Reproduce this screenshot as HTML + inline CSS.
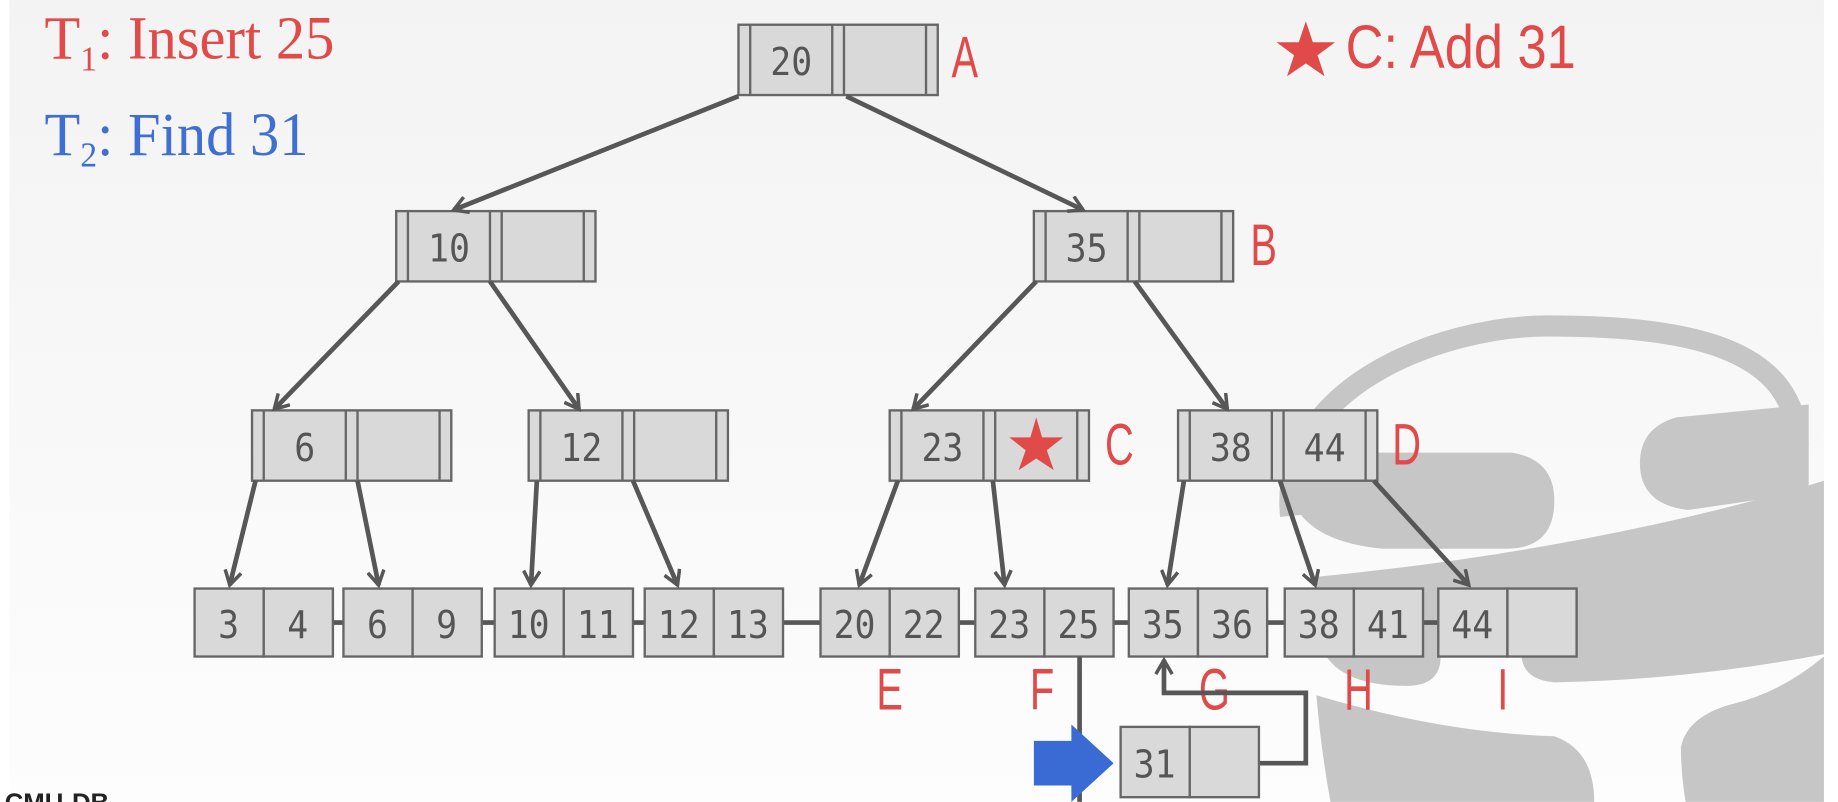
<!DOCTYPE html>
<html><head><meta charset="utf-8"><style>
html,body{margin:0;padding:0;background:#fff}
svg{display:block}
.c{fill:#d9d9d9;stroke:#666;stroke-width:2}
.k{font-family:"DejaVu Sans Mono","Liberation Mono",monospace;font-size:33px;fill:#555;text-anchor:middle;transform-box:fill-box;transform-origin:center;transform:scaleX(0.9)}
.e{stroke:#575757;stroke-width:4;fill:none}
.l{font-family:"Liberation Sans",sans-serif;font-size:50px;fill:#e04a48;text-anchor:middle;transform-box:fill-box;transform-origin:center;transform:scaleX(0.68)}
.t{font-family:"Liberation Serif",serif;font-size:52px;transform-box:fill-box;transform-origin:left center;transform:scaleX(0.96)}
</style></head><body>
<svg width="1838" height="802" viewBox="0 0 1568 684" xmlns="http://www.w3.org/2000/svg">
<defs>
<linearGradient id="bg" x1="0" y1="0" x2="0" y2="1"><stop offset="0" stop-color="#f3f3f3"/><stop offset="1" stop-color="#fdfdfd"/></linearGradient>
<marker id="ah" markerWidth="16" markerHeight="16" refX="13" refY="8" orient="auto" markerUnits="userSpaceOnUse" viewBox="0 0 16 16"><path d="M1,1 L13,8 L1,15" fill="none" stroke="#575757" stroke-width="3"/></marker>
</defs>
<rect x="0" y="0" width="1568" height="684" fill="#fff"/>
<rect x="8" y="0" width="1548" height="684" fill="url(#bg)"/>
<!-- database icon -->
<g fill="#c6c6c6">
<path d="M1101,440 C1090,330 1230,278 1320,278 C1450,278 1532,300 1534,380" fill="none" stroke="#c6c6c6" stroke-width="18"/>
<path d="M1094,386 L1290,386 Q1326,392 1326,427 Q1326,468 1285,468 L1180,468 Q1112,462 1100,420 Z"/>
<path d="M1543,345 L1543,420 L1440,435 Q1399,430 1399,395 Q1399,365 1430,356 Z"/>
<path d="M1123,492 Q1350,470 1543,414 L1556,410 L1556,558 Q1440,580 1326,582 Q1300,580 1298,560 L1229,560 Q1229,585 1200,585 Q1135,585 1125,545 Z"/>
<path d="M1123,593 Q1230,625 1326,628 Q1360,640 1360,684 L1135,684 Q1127,640 1123,593 Z"/>
<path d="M1434,637 Q1440,610 1480,600 Q1520,590 1556,560 L1556,684 L1438,684 Q1434,660 1434,637 Z"/>
</g>
<!-- titles -->
<text class="t" x="38" y="50" fill="#e04a48">T<tspan font-size="30" dy="10">1</tspan><tspan dy="-10">: Insert 25</tspan></text>
<text class="t" x="38" y="132" fill="#3f6fd0">T<tspan font-size="30" dy="10">2</tspan><tspan dy="-10">: Find 31</tspan></text>
<polygon points="1114,18 1120,36 1139,36 1124,47 1130,65 1114,54 1098,65 1104,47 1089,36 1108,36" fill="#e04a48"/>
<text x="1148" y="58" font-family="Liberation Sans,sans-serif" font-size="52" fill="#e04a48" style="transform-box:fill-box;transform-origin:left center;transform:scaleX(0.86)">C: Add 31</text>
<!-- A -->
<rect class="c" x="630" y="21" width="170" height="60"/><line class="c" x1="640" y1="21" x2="640" y2="81"/><line class="c" x1="710" y1="21" x2="710" y2="81"/><line class="c" x1="720" y1="21" x2="720" y2="81"/><line class="c" x1="790" y1="21" x2="790" y2="81"/><text class="k" x="675" y="64">20</text>
<!-- 10 -->
<rect class="c" x="338" y="180" width="170" height="60"/><line class="c" x1="348" y1="180" x2="348" y2="240"/><line class="c" x1="418" y1="180" x2="418" y2="240"/><line class="c" x1="428" y1="180" x2="428" y2="240"/><line class="c" x1="498" y1="180" x2="498" y2="240"/><text class="k" x="383" y="223">10</text>
<!-- B -->
<rect class="c" x="882" y="180" width="170" height="60"/><line class="c" x1="892" y1="180" x2="892" y2="240"/><line class="c" x1="962" y1="180" x2="962" y2="240"/><line class="c" x1="972" y1="180" x2="972" y2="240"/><line class="c" x1="1042" y1="180" x2="1042" y2="240"/><text class="k" x="927" y="223">35</text>
<!-- 6 -->
<rect class="c" x="215" y="350" width="170" height="60"/><line class="c" x1="225" y1="350" x2="225" y2="410"/><line class="c" x1="295" y1="350" x2="295" y2="410"/><line class="c" x1="305" y1="350" x2="305" y2="410"/><line class="c" x1="375" y1="350" x2="375" y2="410"/><text class="k" x="260" y="393">6</text>
<!-- 12 -->
<rect class="c" x="451" y="350" width="170" height="60"/><line class="c" x1="461" y1="350" x2="461" y2="410"/><line class="c" x1="531" y1="350" x2="531" y2="410"/><line class="c" x1="541" y1="350" x2="541" y2="410"/><line class="c" x1="611" y1="350" x2="611" y2="410"/><text class="k" x="496" y="393">12</text>
<!-- C -->
<rect class="c" x="759" y="350" width="170" height="60"/><line class="c" x1="769" y1="350" x2="769" y2="410"/><line class="c" x1="839" y1="350" x2="839" y2="410"/><line class="c" x1="849" y1="350" x2="849" y2="410"/><line class="c" x1="919" y1="350" x2="919" y2="410"/><text class="k" x="804" y="393">23</text>
<polygon points="884,356 889,373 907,373 893,384 899,401 884,391 869,401 875,384 861,373 879,373" fill="#e04a48"/>
<!-- D -->
<rect class="c" x="1005" y="350" width="170" height="60"/><line class="c" x1="1015" y1="350" x2="1015" y2="410"/><line class="c" x1="1085" y1="350" x2="1085" y2="410"/><line class="c" x1="1095" y1="350" x2="1095" y2="410"/><line class="c" x1="1165" y1="350" x2="1165" y2="410"/><text class="k" x="1050" y="393">38</text><text class="k" x="1130" y="393">44</text>
<!-- leaf links -->
<g stroke="#575757" stroke-width="4">
<line x1="284" y1="531" x2="293" y2="531"/><line x1="411" y1="531" x2="422" y2="531"/><line x1="540" y1="531" x2="550" y2="531"/><line x1="668" y1="531" x2="700" y2="531"/><line x1="818" y1="531" x2="832" y2="531"/><line x1="950" y1="531" x2="963" y2="531"/><line x1="1081" y1="531" x2="1096" y2="531"/><line x1="1214" y1="531" x2="1227" y2="531"/>
</g>
<!-- leaves -->
<g>
<rect class="c" x="166" y="502" width="59" height="58"/><rect class="c" x="225" y="502" width="59" height="58"/><text class="k" x="195" y="544">3</text><text class="k" x="254" y="544">4</text>
<rect class="c" x="293" y="502" width="59" height="58"/><rect class="c" x="352" y="502" width="59" height="58"/><text class="k" x="322" y="544">6</text><text class="k" x="381" y="544">9</text>
<rect class="c" x="422" y="502" width="59" height="58"/><rect class="c" x="481" y="502" width="59" height="58"/><text class="k" x="451" y="544">10</text><text class="k" x="510" y="544">11</text>
<rect class="c" x="550" y="502" width="59" height="58"/><rect class="c" x="609" y="502" width="59" height="58"/><text class="k" x="579" y="544">12</text><text class="k" x="638" y="544">13</text>
<rect class="c" x="700" y="502" width="59" height="58"/><rect class="c" x="759" y="502" width="59" height="58"/><text class="k" x="729" y="544">20</text><text class="k" x="788" y="544">22</text>
<rect class="c" x="832" y="502" width="59" height="58"/><rect class="c" x="891" y="502" width="59" height="58"/><text class="k" x="861" y="544">23</text><text class="k" x="920" y="544">25</text>
<rect class="c" x="963" y="502" width="59" height="58"/><rect class="c" x="1022" y="502" width="59" height="58"/><text class="k" x="992" y="544">35</text><text class="k" x="1051" y="544">36</text>
<rect class="c" x="1096" y="502" width="59" height="58"/><rect class="c" x="1155" y="502" width="59" height="58"/><text class="k" x="1125" y="544">38</text><text class="k" x="1184" y="544">41</text>
<rect class="c" x="1227" y="502" width="59" height="58"/><rect class="c" x="1286" y="502" width="59" height="58"/><text class="k" x="1256" y="544">44</text>
</g>
<!-- edges -->
<g class="e" marker-end="url(#ah)">
<line x1="630" y1="82" x2="387" y2="179"/><line x1="722" y1="82" x2="924" y2="179"/>
<line x1="340" y1="240" x2="234" y2="349"/><line x1="418" y1="240" x2="494" y2="349"/>
<line x1="884" y1="240" x2="779" y2="349"/><line x1="968" y1="240" x2="1047" y2="349"/>
<line x1="218" y1="410" x2="196" y2="499"/><line x1="305" y1="410" x2="323" y2="499"/>
<line x1="458" y1="410" x2="453" y2="499"/><line x1="540" y1="410" x2="578" y2="499"/>
<line x1="766" y1="410" x2="733" y2="499"/><line x1="847" y1="410" x2="857" y2="499"/>
<line x1="1010" y1="410" x2="996" y2="499"/><line x1="1092" y1="410" x2="1122" y2="499"/><line x1="1172" y1="410" x2="1253" y2="499"/>
</g>
<!-- labels -->
<text class="l" x="823" y="66">A</text><text class="l" x="1078" y="226">B</text><text class="l" x="955" y="396">C</text><text class="l" x="1200" y="396">D</text>
<text class="l" x="759" y="605">E</text><text class="l" x="889" y="605">F</text><text class="l" x="1036" y="605">G</text><text class="l" x="1159" y="605">H</text><text class="l" x="1282" y="605">I</text>
<!-- new node -->
<line x1="921" y1="560" x2="921" y2="684" stroke="#575757" stroke-width="4"/>
<polyline class="e" points="1074,651 1114,651 1114,591 993,591 993,563" marker-end="url(#ah)"/>
<rect class="c" x="956" y="620" width="59" height="60"/><rect class="c" x="1015" y="620" width="59" height="60"/><text class="k" x="985" y="663">31</text>
<polygon points="882,632 914,632 914,618 950,651 914,684 914,670 882,670" fill="#3a6bd4"/>
<text x="4" y="692" font-family="Liberation Sans,sans-serif" font-weight="bold" font-size="22" fill="#222">CMU-DB</text>
</svg>
</body></html>
